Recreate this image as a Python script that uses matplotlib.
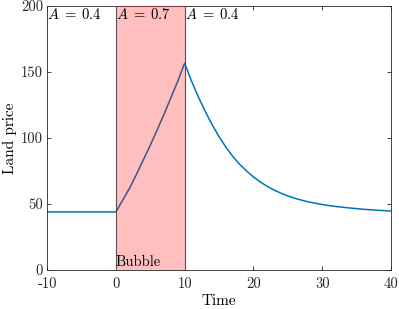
import numpy as np
import matplotlib
matplotlib.use('Agg')
import matplotlib.pyplot as plt

# Serif look, close to the LaTeX interpreter output
plt.rcParams['font.family'] = 'serif'
plt.rcParams['font.serif'] = ['cmr10', 'DejaVu Serif']
plt.rcParams['mathtext.fontset'] = 'cm'
plt.rcParams['axes.unicode_minus'] = False

# Land price path
time = [-10, -5, 0, 1, 2, 3, 4, 5, 6, 7, 8, 9, 10,
        11, 12, 13, 14, 15, 16, 17, 18, 19, 20,
        21, 22, 23, 24, 25, 26, 27, 28, 30, 32, 34, 36, 38, 40]
price = [44, 44, 44, 53, 62, 72.5, 83.5, 94.5, 106, 118, 130.5, 143, 156.6,
         143, 131, 120, 110, 101, 93, 86, 80, 75, 70.5,
         66.7, 63.4, 60.6, 58.2, 56.1, 54.4, 52.9, 51.6, 49.6, 48.1, 47, 46, 45.3, 44.7]

bubble_start = 0
bubble_end = 10
regime_x = [-10, 0, 10]
regime_labels = [r'$A\;=\;0.4$', r'$A\;=\;0.7$', r'$A\;=\;0.4$']
xticks = [-10, 0, 10, 20, 30, 40]
yticks = [0, 50, 100, 150, 200]

fig = plt.figure(figsize=(3.99, 3.09), dpi=100)
ax = fig.add_axes([0.118, 0.126, 0.862, 0.855])

ax.plot(time, price, color='#0072BD', linewidth=1.1, zorder=2)
ax.axvspan(bubble_start, bubble_end, facecolor='red', alpha=0.25,
           edgecolor='none', zorder=3)
ax.axvline(bubble_start, color='#555555', linewidth=0.8, zorder=4)
ax.axvline(bubble_end, color='#555555', linewidth=0.8, zorder=4)

for xv, lab in zip(regime_x, regime_labels):
    ax.text(xv, 199, lab, ha='left', va='top', fontsize=10.5, zorder=5)
ax.text(bubble_start, 0.5, 'Bubble', ha='left', va='bottom', fontsize=10.5, zorder=5)

ax.set_xlim(-10, 40)
ax.set_ylim(0, 200)
ax.set_xticks(xticks)
ax.set_xticklabels([str(v) for v in xticks])
ax.set_yticks(yticks)
ax.set_yticklabels([str(v) for v in yticks])
ax.tick_params(direction='in', top=True, right=True, length=3,
               width=0.6, labelsize=10.5, colors='#262626')
ax.tick_params(axis='x', pad=5)
ax.tick_params(axis='y', pad=3)
for s in ax.spines.values():
    s.set_linewidth(0.6)
    s.set_color('#262626')
ax.set_xlabel('Time', fontsize=11, labelpad=2.5)
ax.set_ylabel('Land price', fontsize=11, labelpad=3)

fig.savefig('out.png', dpi=100)
